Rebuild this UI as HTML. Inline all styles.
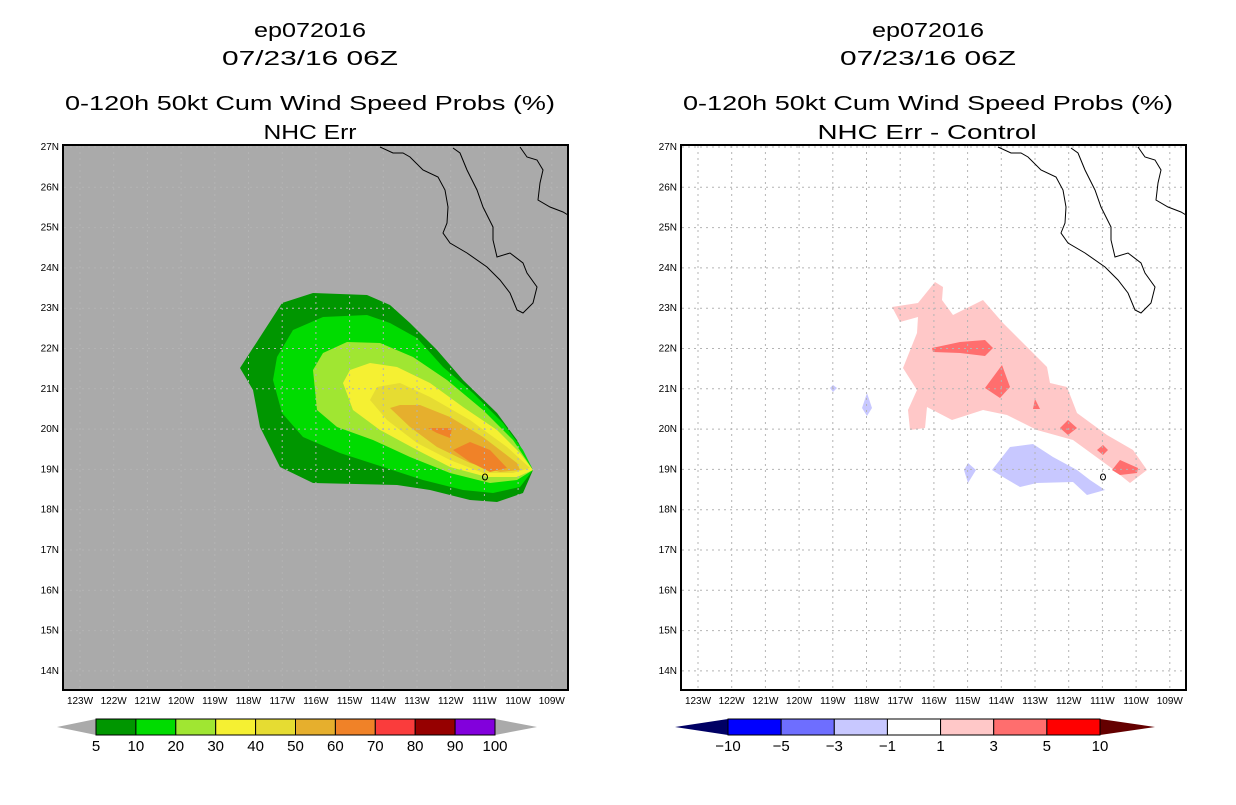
<!DOCTYPE html>
<html><head><meta charset="utf-8"><style>
body{margin:0;background:#fff;}
svg text{font-family:"Liberation Sans",sans-serif;}
</style></head><body>
<svg id="s" width="1236" height="800" xmlns="http://www.w3.org/2000/svg">
<g font-size="20" text-anchor="middle" fill="#000">
<text x="310" y="37" textLength="112" lengthAdjust="spacingAndGlyphs">ep072016</text>
<text x="310" y="65" textLength="176" lengthAdjust="spacingAndGlyphs">07/23/16 06Z</text>
<text x="310" y="110" textLength="490" lengthAdjust="spacingAndGlyphs">0-120h 50kt Cum Wind Speed Probs (%)</text>
<text x="310" y="139" textLength="93" lengthAdjust="spacingAndGlyphs">NHC Err</text>
</g>
<g font-size="20" text-anchor="middle" fill="#000">
<text x="928" y="37" textLength="112" lengthAdjust="spacingAndGlyphs">ep072016</text>
<text x="928" y="65" textLength="176" lengthAdjust="spacingAndGlyphs">07/23/16 06Z</text>
<text x="928" y="110" textLength="490" lengthAdjust="spacingAndGlyphs">0-120h 50kt Cum Wind Speed Probs (%)</text>
<text x="927" y="139" textLength="219" lengthAdjust="spacingAndGlyphs">NHC Err - Control</text>
</g>
<g id="left"></g>
<g id="right"></g>
<g id="cbl"></g>
<g id="cbr"></g>
</svg>
<script>
const lonTicks=[123,122,121,120,119,118,117,116,115,114,113,112,111,110,109];
const latTicks=[27,26,25,24,23,22,21,20,19,18,17,16,15,14];
const probLevels=["5","10","20","30","40","50","60","70","80","90","100"];
const probColors=["#009600","#00dc00","#a0e632","#f5f032","#e6dc32","#e6af2d","#f08228","#fa3c3c","#960000","#8200dc"];
const diffLevels=["-10","-5","-3","-1","1","3","5","10"];
const diffColors=["#0000ff","#6e6eff","#c8c8ff","#ffffff","#ffc8c8","#ff6e6e","#ff0000"];
const probPolys=[
[[240,368],[282,303],[313,293],[367,295],[390,305],[410,323],[437,350],[463,380],[497,413],[517,440],[533,470],[523,493],[497,502],[470,500],[430,490],[397,485],[313,483],[280,467],[260,427],[253,390]],
[[273,380],[277,357],[293,330],[323,317],[367,315],[390,323],[417,338],[443,367],[473,393],[503,423],[523,450],[533,470],[520,487],[493,493],[463,490],[423,480],[383,467],[340,453],[303,437],[282,413]],
[[313,370],[323,353],[347,342],[380,343],[413,357],[447,380],[483,410],[513,440],[533,470],[517,480],[490,483],[450,473],[410,457],[373,440],[337,427],[317,410]],
[[343,383],[350,370],[370,363],[397,367],[430,383],[463,407],[497,430],[520,453],[533,470],[517,477],[487,477],[450,467],[417,450],[380,430],[353,410]],
[[370,400],[377,387],[400,383],[430,397],[470,420],[507,447],[530,468],[513,473],[483,473],[450,460],[417,443],[387,420]],
[[390,408],[400,405],[420,405],[450,417],[483,437],[517,463],[520,470],[500,472],[470,463],[437,447],[410,427]],
[[428,428],[452,428],[450,438],[437,433]],
[[453,450],[470,442],[490,450],[507,468],[490,472],[470,462]]
];
const probPolyBand=[0,1,2,3,4,5,6,6];
const diffPolys=[
[[892,307],[918,303],[935,282],[943,287],[942,300],[953,315],[983,300],[1003,323],[1027,347],[1047,367],[1050,383],[1067,387],[1077,413],[1107,435],[1133,450],[1147,470],[1130,483],[1110,467],[1073,440],[1037,430],[1007,415],[983,410],[952,420],[927,407],[925,428],[910,430],[908,410],[917,390],[903,368],[917,333],[918,317],[900,322]],
[[932,348],[960,342],[985,340],[993,348],[985,356],[960,353],[933,352]],
[[1002,365],[1010,387],[1000,398],[985,388]],
[[1035,399],[1040,409],[1033,409]],
[[1068,420],[1077,428],[1068,435],[1060,428]],
[[1103,445],[1108,450],[1103,455],[1097,450]],
[[1120,460],[1138,468],[1137,473],[1120,475],[1112,470]],
[[992,470],[1010,447],[1033,444],[1053,457],[1077,470],[1090,480],[1105,490],[1087,495],[1073,482],[1037,483],[1020,487],[1003,477]],
[[968,463],[976,470],[968,483],[964,470]],
[[867,393],[872,408],[867,416],[862,408]],
[[833,385],[837,388],[833,392],[830,388]]
];
const diffPolyBand=[4,5,5,5,5,5,5,2,2,2,2];
const coast=[[380,147],[393,153],[403,153],[410,157],[423,170],[438,177],[445,190],[448,207],[447,223],[443,233],[450,243],[467,253],[487,267],[500,280],[510,293],[517,310],[523,313],[533,303],[537,287],[527,273],[523,263],[510,253],[497,257],[493,240],[493,227],[483,207],[477,190],[467,170],[460,153],[453,148]];
const coast2=[[520,147],[527,157],[537,160],[543,170],[540,183],[538,200],[550,207],[563,212],[568,215]];

const NS="http://www.w3.org/2000/svg";
function mk(p,t,a){const e=document.createElementNS(NS,t);for(const k in a)e.setAttribute(k,a[k]);p.appendChild(e);return e;}
const pts=a=>a.map(p=>p.join(',')).join(' ');

function drawMap(g,x0,bg,isLeft){
  const X=lon=>x0+17+(123-lon)*33.7, Y=lat=>147+(27-lat)*40.3;
  const fr=mk(g,'rect',{x:x0,y:145,width:505,height:545,fill:bg});
  
  
  const off=x0-63;
  if(isLeft){
    probPolys.forEach((p,i)=>{const e=mk(g,'polygon',{points:pts(p),fill:probColors[probPolyBand[i]]});
      
      });
  } else {
    diffPolys.forEach((p,i)=>{const e=mk(g,'polygon',{points:pts(p),fill:diffColors[diffPolyBand[i]]});
      
      });
  }
  lonTicks.forEach(l=>{const e=mk(g,'line',{x1:X(l),x2:X(l),y1:146,y2:689,stroke:'#b4b4b4','stroke-dasharray':'2,4','stroke-width':1});
    
    
    const t=mk(g,'text',{x:X(l),y:704,'font-size':10,'text-anchor':'middle'});t.textContent=l+'W';
    
    });
  latTicks.forEach(l=>{const e=mk(g,'line',{x1:x0+1,x2:x0+504,y1:Y(l),y2:Y(l),stroke:'#b4b4b4','stroke-dasharray':'2,4','stroke-width':1});
    
    
    const t=mk(g,'text',{x:x0-4,y:Y(l)+3,'font-size':10,'text-anchor':'end'});t.textContent=l+'N';
    
    });
  const sh=a=>a.map(p=>[p[0]+off,p[1]]);
  [coast,coast2].forEach(c=>{const e=mk(g,'polyline',{points:pts(sh(c)),fill:'none',stroke:'#000','stroke-width':1});
    
    });
  const is=mk(g,'ellipse',{cx:485+off,cy:477,rx:2.5,ry:3,fill:'none',stroke:'#000'});
  
  
  const b=mk(g,'rect',{x:x0,y:145,width:505,height:545,fill:'none',stroke:'#000','stroke-width':2});
  
  
}
drawMap(document.getElementById('left'),63,'#aaaaaa',true);
drawMap(document.getElementById('right'),681,'#ffffff',false);

function drawBar(g,xl,xs,xe,xr,levels,colors,lt,rt){
  const n=colors.length,w=(xe-xs)/n,y=719,h=16;
  const a=mk(g,'polygon',{points:`${xl},${y+h/2} ${xs},${y} ${xs},${y+h}`,fill:lt});
  
  
  const c=mk(g,'polygon',{points:`${xr},${y+h/2} ${xe},${y} ${xe},${y+h}`,fill:rt});
  
  
  colors.forEach((col,i)=>{const r=mk(g,'rect',{x:xs+i*w,y:y,width:w,height:h,fill:col,stroke:'#000','stroke-width':1});
    
    });
  levels.forEach((lv,i)=>{const t=mk(g,'text',{x:xs+i*w,y:751,'font-size':15,'text-anchor':'middle'});t.textContent=lv.replace('-','\u2212');
    
    });
}
drawBar(document.getElementById('cbl'),57,96,495,537,probLevels,probColors,'#aaaaaa','#aaaaaa');
drawBar(document.getElementById('cbr'),675,728,1100,1155,diffLevels,diffColors,'#000064','#640000');
</script>
</body></html>
